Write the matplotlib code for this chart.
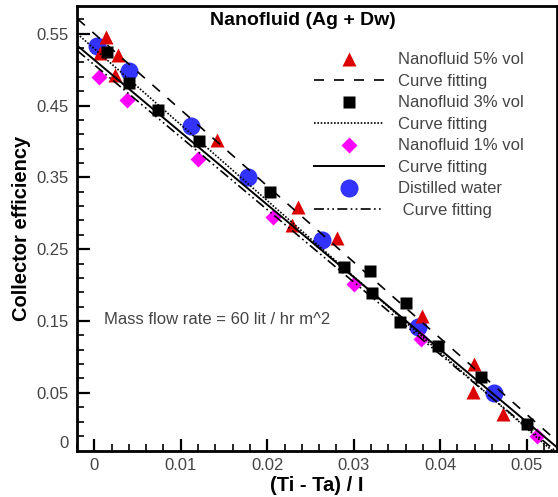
import numpy as np
import matplotlib.pyplot as plt
from matplotlib.lines import Line2D

plt.rcParams['font.family'] = ['Liberation Sans', 'DejaVu Sans']

# Nanofluid 5% vol (red triangles)
x_5 = [0.0013, 0.0027, 0.0007, 0.0024, 0.0142, 0.0236, 0.0229, 0.0281, 0.0379, 0.0439, 0.0438, 0.0473]
y_5 = [0.546, 0.521, 0.523, 0.493, 0.402, 0.309, 0.283, 0.266, 0.157, 0.090, 0.051, 0.021]

# Nanofluid 3% vol (black squares)
x_3 = [0.0015, 0.0040, 0.0074, 0.0121, 0.0203, 0.0289, 0.0319, 0.0321, 0.0361, 0.0354, 0.0398, 0.0447, 0.0500]
y_3 = [0.524, 0.482, 0.444, 0.400, 0.329, 0.225, 0.219, 0.189, 0.175, 0.149, 0.115, 0.072, 0.007]

# Nanofluid 1% vol (magenta diamonds)
x_1 = [0.0005, 0.0038, 0.0120, 0.0207, 0.0300, 0.0378, 0.0512]
y_1 = [0.489, 0.457, 0.376, 0.295, 0.202, 0.125, -0.010]

# Distilled water (blue circles)
x_w = [0.0003, 0.0040, 0.0112, 0.0178, 0.0263, 0.0374, 0.0462]
y_w = [0.533, 0.498, 0.422, 0.351, 0.263, 0.142, 0.050]

# Curve fitting: (intercept, slope)
fit_5 = (0.550, -10.6)
fit_3 = (0.529, -10.57)
fit_1 = (0.5135, -10.08)
fit_w = (0.5066, -10.08)

y_ticks = [-0.018, 0.05, 0.15, 0.25, 0.35, 0.45, 0.55]
y_tick_labels = ['0', '0.05', '0.15', '0.25', '0.35', '0.45', '0.55']
x_ticks = [0, 0.01, 0.02, 0.03, 0.04, 0.05]
x_tick_labels = ['0', '0.01', '0.02', '0.03', '0.04', '0.05']

fig = plt.figure(figsize=(5.58, 4.97), dpi=100)
ax = fig.add_axes([0.138, 0.0926, 0.86, 0.896])

xmin, xmax = -0.00196, 0.0535
ax.set_xlim(xmin, xmax)
ax.set_ylim(-0.031, 0.589)

xx = np.array([xmin, xmax])
ax.plot(xx, fit_5[0] + fit_5[1] * xx, color='black', lw=1.2, dashes=(6, 6), zorder=5)
ax.plot(xx, fit_3[0] + fit_3[1] * xx, color='black', lw=1.2, linestyle=(0, (1, 1)), zorder=5)
ax.plot(xx, fit_1[0] + fit_1[1] * xx, color='black', lw=1.4, zorder=5)
ax.plot(xx, fit_w[0] + fit_w[1] * xx, color='black', lw=1.2, linestyle=(0, (6, 2, 1, 2, 1, 2)), zorder=5)

ax.plot(x_5, y_5, '^', color='#dd0000', ms=10, mec='none', zorder=3)
ax.plot(x_3, y_3, 's', color='black', ms=8.5, mec='none', zorder=3)
ax.plot(x_1, y_1, 'D', color='#ff00ff', ms=8.5, mec='none', zorder=3)
ax.plot(x_w, y_w, 'o', color='#3333ff', ms=13, mec='none', zorder=2)

# ticks
ax.set_xticks(x_ticks)
ax.set_xticklabels(x_tick_labels)
ax.set_xticks(np.arange(-0.002, 0.0535, 0.002), minor=True)
ax.set_yticks(y_ticks)
ax.set_yticklabels(y_tick_labels)
ax.set_yticks(np.arange(-0.01, 0.58, 0.02), minor=True)
ax.yaxis.get_major_ticks()[0].tick1line.set_visible(False)
ax.tick_params(which='major', direction='in', length=9, width=1.6, labelsize=12,
               labelcolor='#444444', pad=6)
ax.tick_params(which='minor', direction='in', length=5, width=1.2)
ax.tick_params(axis='x', pad=5)
for s in ax.spines.values():
    s.set_linewidth(2)

ax.set_xlabel('(Ti - Ta) / I', fontsize=14.5, fontweight='bold', labelpad=2)
ax.set_ylabel('Collector efficiency', fontsize=14.5, fontweight='bold', labelpad=4)

ax.text(0.47, 0.986, 'Nanofluid (Ag + Dw)', transform=ax.transAxes, ha='center', va='top',
        fontsize=14, fontweight='bold')
ax.text(0.0011, 0.152, 'Mass flow rate = 60 lit / hr m^2', ha='left', va='center',
        fontsize=12, color='#444444')

handles = [
    Line2D([], [], ls='none', marker='^', color='#dd0000', ms=10, mec='none'),
    Line2D([], [], color='black', lw=1.2, dashes=(6, 6)),
    Line2D([], [], ls='none', marker='s', color='black', ms=8.5, mec='none'),
    Line2D([], [], color='black', lw=1.2, linestyle=(0, (1, 1))),
    Line2D([], [], ls='none', marker='D', color='#ff00ff', ms=8.5, mec='none'),
    Line2D([], [], color='black', lw=1.4),
    Line2D([], [], ls='none', marker='o', color='#3333ff', ms=13, mec='none'),
    Line2D([], [], color='black', lw=1.2, linestyle=(0, (6, 2, 1, 2, 1, 2))),
]
labels = ['Nanofluid 5% vol', 'Curve fitting', 'Nanofluid 3% vol', 'Curve fitting',
          'Nanofluid 1% vol', 'Curve fitting', 'Distilled water', ' Curve fitting']
leg = ax.legend(handles, labels, loc='upper left', bbox_to_anchor=(0.48, 0.91),
                frameon=False, fontsize=12, handlelength=4.2, handletextpad=0.85,
                labelspacing=0.39, borderaxespad=0)
for t in leg.get_texts():
    t.set_color('#444444')

fig.savefig('out.png', dpi=100)
